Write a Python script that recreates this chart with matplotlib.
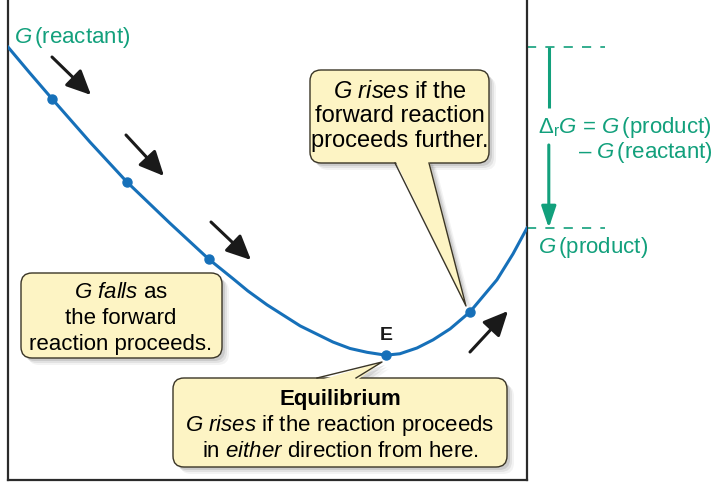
"""
Gibbs energy vs. extent of reaction, with callouts.
"""
import matplotlib.pyplot as plt
from matplotlib.patches import FancyBboxPatch, Polygon, FancyArrowPatch

plt.rcParams["font.family"] = ["Liberation Sans", "DejaVu Sans"]
plt.rcParams["mathtext.fontset"] = "custom"
plt.rcParams["mathtext.rm"] = "Liberation Sans"
plt.rcParams["mathtext.it"] = "Liberation Sans:italic"
plt.rcParams["mathtext.bf"] = "Liberation Sans:bold"

# extent of reaction (0 = all reactant, 1 = all product) and G (arbitrary units)
extent = [0.000, 0.042, 0.085, 0.158, 0.229, 0.312, 0.387, 0.434, 0.462, 0.499,
          0.563, 0.626, 0.659, 0.692, 0.728, 0.755, 0.788, 0.819, 0.852, 0.890,
          0.942, 0.973, 1.000]
gibbs = [90.2, 84.8, 79.4, 70.4, 62.1, 53.5, 46.0, 41.9, 39.4, 36.5,
         32.1, 28.75, 27.4, 26.6, 26.0, 26.3, 27.5, 29.2, 31.5, 35.0,
         41.7, 47.1, 52.5]

# highlighted points on the curve (fourth one is the equilibrium E)
dot_extent = [0.085, 0.229, 0.387, 0.728, 0.890]
dot_gibbs = [79.4, 62.1, 46.0, 26.0, 35.0]

g_reactant = gibbs[0]
g_product = gibbs[-1]

GREEN = "#12a07c"
BLUE = "#1670b9"
FILL = "#fdf4c4"
EDGE = "#3a3526"
FS = 16

W, H = 724, 484
fig = plt.figure(figsize=(W / 100, H / 100), dpi=100)

# --- main axes: the curve -------------------------------------------------
ax = fig.add_axes([8 / W, 4 / H, 519 / W, 480 / H])
ax.set_xlim(0, 1)
ax.set_ylim(0, 100)
ax.set_xticks([])
ax.set_yticks([])
ax.spines["top"].set_visible(False)
for s in ("left", "right", "bottom"):
    ax.spines[s].set_linewidth(1.6)
    ax.spines[s].set_color("#2b2b2b")

ax.plot(extent, gibbs, color=BLUE, lw=2.2, solid_joinstyle="round", zorder=3)
ax.plot(dot_extent, dot_gibbs, "o", ms=6.5, color=BLUE, zorder=4)

# Delta_r G bracket on the right
x_br = 1.042
for g in (g_reactant, g_product):
    ax.plot([1.0, 1.15], [g, g], ls=(0, (5.5, 5.5)), color=GREEN, lw=1.2,
            clip_on=False)
ax.plot([x_br, x_br], [g_reactant, 77.5], color=GREEN, lw=2.2,
        solid_capstyle="butt", clip_on=False)
ax.add_patch(FancyArrowPatch((x_br, 69.8), (x_br, g_product),
                             arrowstyle="-|>,head_length=0.65,head_width=0.22",
                             mutation_scale=20, lw=2.2, color=GREEN,
                             shrinkA=0, shrinkB=0, clip_on=False))

# --- overlay in pixel coordinates for labels and callouts -------------------
ov = fig.add_axes([0, 0, 1, 1], zorder=5)
ov.set_xlim(0, W)
ov.set_ylim(H, 0)
ov.axis("off")

SHADOW = [(7, 0.06), (5, 0.09), (3, 0.14)]


def box(x0, y0, x1, y1):
    """Rounded yellow box with a soft shadow."""
    w, h = x1 - x0, y1 - y0
    for off, a in SHADOW:
        ov.add_patch(FancyBboxPatch((x0 + off, y0 + off), w, h,
                                    boxstyle="round,pad=0,rounding_size=11",
                                    fc="0.25", ec="none", alpha=a))
    ov.add_patch(FancyBboxPatch((x0, y0), w, h,
                                boxstyle="round,pad=0,rounding_size=11",
                                fc=FILL, ec=EDGE, lw=1.0))


def tail(base_y, bx0, bx1, tip, inset):
    """Pointed tail joined to a box edge at base_y."""
    pts = [(bx0, base_y + inset), tip, (bx1, base_y + inset)]
    for off, a in SHADOW:
        ov.add_patch(Polygon([(px + off, py + off) for px, py in pts],
                             fc="0.25", ec="none", alpha=a, zorder=0.9))
    ov.add_patch(Polygon(pts, fc=FILL, ec="none", zorder=1.1))
    ov.plot([bx0, tip[0], bx1], [base_y, tip[1], base_y], color=EDGE, lw=1.0,
            zorder=1.2)


box(21, 273, 222, 358)
ov.text(121, 298, "$G$ $falls$ as", ha="center", va="baseline", fontsize=FS)
ov.text(121, 324, "the forward", ha="center", va="baseline", fontsize=FS)
ov.text(121, 350, "reaction proceeds.", ha="center", va="baseline", fontsize=FS)

box(310, 70, 489, 163)
tail(163, 395, 429, (466, 306), -3)
ov.text(400, 98, "$G$ $rises$ if the", ha="center", va="baseline", fontsize=17)
ov.text(400, 122, "forward reaction", ha="center", va="baseline", fontsize=17)
ov.text(400, 147, "proceeds further.", ha="center", va="baseline", fontsize=17)

box(173, 378, 507, 467)
tail(378, 317, 356, (382, 362), 3)
ov.text(340, 405, "Equilibrium", ha="center", va="baseline", fontsize=FS,
        fontweight="bold")
ov.text(340, 431, "$G$ $rises$ if the reaction proceeds", ha="center",
        va="baseline", fontsize=FS)
ov.text(340, 457, "in $either$ direction from here.", ha="center",
        va="baseline", fontsize=FS)

ov.text(386, 340, "E", ha="center", va="baseline", fontsize=14,
        fontweight="bold", color="#1a1a1a")

# black direction arrows along the curve
for t0, t1 in [((52, 57), (91, 95)), ((126, 135), (164, 176)),
               ((211, 222), (251, 260)), ((470, 352), (508, 311))]:
    ov.add_patch(FancyArrowPatch(t0, t1,
                                 arrowstyle="-|>,head_length=0.75,head_width=0.35",
                                 mutation_scale=20, lw=2.2, color="#1a1a1a",
                                 shrinkA=0, shrinkB=0))

# green labels
ov.text(14, 43, r"$G\,$(reactant)", color=GREEN, fontsize=16, va="baseline")
ov.text(538, 133, r"$\Delta_\mathrm{r}G$ = $G\,$(product)", color=GREEN,
        fontsize=16, va="baseline")
ov.text(713, 158, r"– $G\,$(reactant)", color=GREEN, fontsize=16,
        va="baseline", ha="right")
ov.text(538, 253, r"$G\,$(product)", color=GREEN, fontsize=16, va="baseline")

fig.savefig("out.png", dpi=100)
